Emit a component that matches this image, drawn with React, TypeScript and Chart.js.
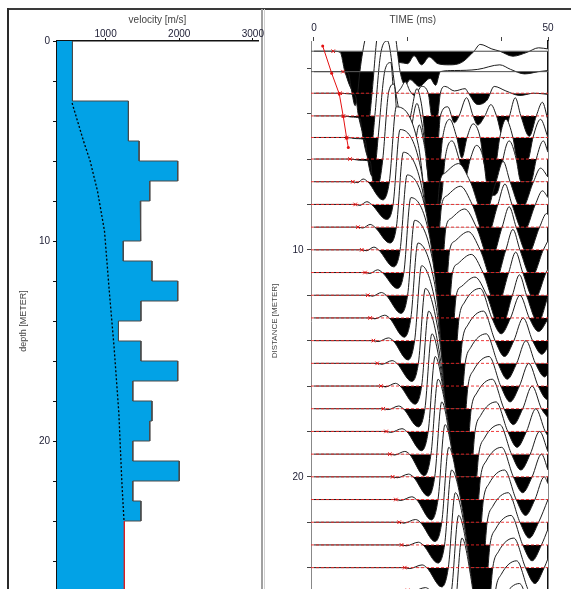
import React, { useEffect, useRef } from 'react';
import { Chart, registerables } from 'chart.js';
Chart.register(...registerables);

const FONT = "'Liberation Sans', Arial, sans-serif";

// ---------------- Left panel: velocity profile ----------------
const LAYER_TOP = [0, 3, 5, 6, 7, 8, 9, 10, 11, 12, 13, 14, 15, 16, 17, 18, 19, 20, 21, 22, 23];
const LAYER_VEL = [550, 1310, 1455, 1980, 1600, 1470, 1480, 1240, 1630, 1980, 1480, 1175, 1480, 1980, 1370, 1630, 1600, 1370, 2000, 1370, 1480];
const HALFSPACE_DEPTH = [24, 28];
const HALFSPACE_VEL = [1255, 1255];
const AVG_DEPTH = [3.1, 5, 6, 7.5, 9.5, 12.5, 15.3, 18.6, 22, 24];
const AVG_VEL = [545, 700, 790, 890, 985, 1050, 1115, 1180, 1220, 1250];
const VEL_RANGE = [340, 3070];
const VEL_TICKS = [1000, 2000, 3000];
const DEPTH_RANGE = [0, 28];
const DEPTH_TICKS = [0, 2, 4, 6, 8, 10, 12, 14, 16, 18, 20, 22, 24, 26, 28];
const DEPTH_LABELS = [0, 10, 20];

// ---------------- Right panel: seismic wiggle traces ----------------
// [time ms, amplitude in trace-spacing units; + = down (black), - = up]
const TR01 = [[0,0],[4.1,0],[5.6,0.05],[6.6,0.9],[8.5,1.8],[11,1.9],[13.5,1.7],[15.5,1.0],[17,0.6],[18.4,0.5],[20,0.55],[21.4,0.2],[23,0.6],[24.6,0.25],[26.5,0.55],[29,0.6],[31.5,0.5],[33.5,0.15],[34.2,0],[35.5,-0.3],[38,-0.1],[39.7,0],[42.5,0.22],[45.5,0.05],[48,-0.15],[50,-0.1]];
const TR02 = [[0,0],[6.2,0],[7.3,0.05],[8,0.8],[8.8,1.5],[9.3,1.0],[9.8,0],[11,-1.5],[12.5,-2.2],[15,-2.4],[17.2,-1.8],[18.4,0],[19.5,0.6],[20.5,0.35],[22.5,0.65],[24.8,0.3],[26,0.6],[27,0],[30,-0.05],[35,-0.1],[39.7,-0.3],[42,-0.1],[45,0.1],[48,0],[50,-0.05]];
const TR03 = [[0,0],[5.6,0],[7.5,0.03],[8.8,0.08],[9.5,1.0],[10.8,1.8],[11.8,1.2],[12.4,0],[13.6,-2.6],[15,-3.0],[16.5,-1.2],[17.5,0],[18.5,-0.2],[19.5,-0.5],[20.5,-0.1],[21.5,0.1],[23,-0.3],[24.4,0],[25.1,1.0],[25.9,1.3],[26.5,0.9],[27,0],[28,-0.3],[30,-0.1],[32.3,-0.2],[33,0],[35,0.5],[37,0.3],[38.5,-0.3],[41,-0.1],[44,0.1],[47,0],[50,0.05]];
const TR04 = [[0,0],[6.3,0],[8,0.05],[9.8,0.1],[10.5,1.0],[11.6,1.8],[12.5,1.1],[13,0],[14.3,-2.8],[15.7,-3.3],[17.5,-1.0],[18.6,0],[19.3,-0.2],[20.2,0.2],[22,-1.2],[22.8,-0.7],[23.3,0],[23.9,1.3],[25.2,1.8],[26.5,1.2],[27,0],[28.6,-0.4],[30,0.3],[31,0],[32.6,-0.8],[34,0],[35,0.4],[36.5,0],[37.8,-0.5],[39,0],[40.5,1.0],[41.8,0],[43,-0.8],[44.2,0],[46,0.9],[47.5,0],[48.8,-0.6],[50,0.2]];
const TR05 = [[0,0],[7,0],[9,0.05],[10.9,0.1],[11.5,1.0],[12.4,1.7],[13.2,1.1],[13.7,0],[15.2,-3.0],[16.4,-3.3],[17.5,0],[18.2,0.8],[19,1.1],[19.8,0.8],[20.5,0],[22,-1.5],[22.9,-0.8],[23.5,0],[24.2,1.4],[25.5,2.0],[26.8,1.4],[27.5,0],[29,-0.8],[30.5,0],[31.6,0.9],[32.7,0],[34,-0.6],[35.5,0],[36.3,1.1],[37.6,1.6],[38.9,1.1],[39.7,0],[41,-0.8],[42.5,0],[43.3,0.9],[44.6,1.3],[45.9,0.9],[46.8,0],[48.4,-0.8],[50,0]];
const TR06 = [[0,0],[7.7,0],[9.7,0.05],[12,0.1],[12.5,0.9],[13.3,1.5],[14.1,0.9],[14.7,0],[16,-3.0],[17.1,-3.3],[18.2,0],[18.9,0.8],[19.7,1.1],[20.5,0.8],[21.2,0],[22.5,-1.5],[23.4,-0.8],[24,0],[24.7,1.6],[26,2.2],[27.3,1.6],[28,0],[29.5,-0.8],[31,0],[32.2,0.9],[33.4,0],[34.7,-0.6],[36.2,0],[37,1.2],[38.3,1.6],[39.6,1.2],[40.4,0],[41.7,-0.8],[43.2,0],[44,0.9],[45.3,1.3],[46.6,0.9],[47.5,0],[49,-0.8],[50,-0.3]];
const TR07 = [[0,0],[8.3,0],[9.3,0.04],[10.5,-0.12],[11.5,0],[14.7,0.8],[16.1,0],[17.6,-3.3],[22.3,-1.6],[23.3,0],[24,1.6],[25.1,2.4],[26.2,1.6],[26.9,0],[28.1,-0.4],[30.9,-0.8],[33.4,0],[36.4,1.5],[38.9,0],[40.4,-0.9],[41.9,0],[44.4,1.2],[46.9,0],[48.4,-0.6],[50,-0.2]];
const TR08 = [[0,0],[8.8,0],[9.8,0.04],[11.3,-0.12],[12.3,0],[15.5,0.66],[16.9,0],[18.4,-3.3],[22.8,-1.6],[23.8,0],[24.5,1.6],[25.55,2.4],[26.6,1.6],[27.3,0],[28.5,-0.4],[31.3,-0.8],[33.8,0],[36.8,1.5],[39.3,0],[40.8,-0.9],[42.3,0],[44.8,1.2],[47.3,0],[48.8,-0.6],[50,-0.3]];
const TR09 = [[0,0],[9.4,0],[10.4,0.04],[12,-0.12],[13,0],[16.2,0.7],[17.6,0],[19.1,-3.3],[23.2,-1.6],[24.2,0],[24.9,1.6],[26.2,2.4],[27.5,1.6],[28.2,0],[29.4,-0.4],[32.2,-0.8],[34.7,0],[37.7,1.5],[40.2,0],[41.7,-0.9],[43.2,0],[45.7,1.2],[48.2,0],[49.7,-0.6],[50,-0.55]];
const TR10 = [[0,0],[10.2,0],[11.2,0.04],[12.8,-0.12],[13.8,0],[17,0.75],[18.4,0],[19.9,-3.3],[24,-1.6],[25,0],[25.7,1.6],[27,2.4],[28.3,1.6],[29,0],[30.2,-0.4],[33,-0.8],[35.5,0],[38.5,1.5],[41,0],[42.5,-0.9],[44,0],[46.5,1.2],[49,0],[50,-0.4]];
const TR11 = [[0,0],[10.9,0],[11.9,0.04],[13.6,-0.12],[14.6,0],[17.8,0.7],[19.2,0],[20.7,-3.3],[24.7,-1.6],[25.7,0],[26.4,1.6],[27.65,2.4],[28.9,1.6],[29.6,0],[30.8,-0.4],[33.6,-0.8],[36.1,0],[39.1,1.5],[41.6,0],[43.1,-0.9],[44.6,0],[47.1,1.2],[49.6,0],[50,-0.15]];
const TR12 = [[0,0],[11.5,0],[12.5,0.04],[14.4,-0.12],[15.4,0],[18.6,0.8],[20,0],[21.5,-3.3],[25.3,-1.6],[26.3,0],[27,1.6],[28.35,2.4],[29.7,1.6],[30.4,0],[31.6,-0.4],[34.4,-0.8],[36.9,0],[39.9,1.5],[42.4,0],[43.9,-0.9],[45.4,0],[47.9,1.2],[50,0.05]];
const TR13 = [[0,0],[12,0],[13,0.04],[15.1,-0.12],[16.1,0],[19.3,0.85],[20.7,0],[22.2,-3.3],[25.7,-1.6],[26.7,0],[27.4,1.6],[28.85,2.4],[30.3,1.6],[31,0],[32.2,-0.7],[35.5,-1.3],[38,0],[40,0.7],[42,0],[44,-1.0],[46,0],[48,0.6],[50,0.05]];
const TR14 = [[0,0],[12.7,0],[13.7,0.04],[15.9,-0.12],[16.9,0],[20.1,0.85],[21.5,0],[23,-3.3],[26,-1.6],[27,0],[27.7,1.6],[29.35,2.4],[31,1.6],[31.7,0],[32.9,-0.7],[36.2,-1.3],[38.7,0],[40.7,0.7],[42.7,0],[44.7,-1.0],[46.7,0],[48.7,0.6],[50,0.3]];
const TR15 = [[0,0],[13.5,0],[14.5,0.04],[16.7,-0.12],[17.7,0],[20.9,0.8],[22.3,0],[23.8,-3.3],[26.4,-1.6],[27.4,0],[28.1,1.6],[29.85,2.4],[31.6,1.6],[32.3,0],[33.5,-0.7],[36.8,-1.3],[39.3,0],[41.3,0.7],[43.3,0],[45.3,-1.0],[47.3,0],[49.3,0.6],[50,0.45]];
const TR16 = [[0,0],[14.3,0],[15.3,0.04],[17.4,-0.12],[18.4,0],[21.6,0.8],[23,0],[24.5,-3.3],[26.7,-1.6],[27.7,0],[28.4,1.6],[30.3,2.4],[32.2,1.6],[32.9,0],[34.1,-0.7],[37.4,-1.3],[39.9,0],[41.9,0.7],[43.9,0],[45.9,-1.0],[47.9,0],[49.9,0.6],[50,0.58]];
const TR17 = [[0,0],[14.8,0],[15.8,0.04],[18.1,-0.12],[19.1,0],[22.3,0.8],[23.7,0],[25.2,-3.3],[27.2,-1.6],[28.2,0],[28.9,1.6],[30.9,2.4],[32.9,1.6],[33.6,0],[34.8,-0.7],[38.1,-1.3],[40.6,0],[42.6,0.7],[44.6,0],[46.6,-1.0],[48.6,0],[50,0.4]];
const TR18 = [[0,0],[15.4,0],[16.4,0.04],[18.8,-0.12],[19.8,0],[23,0.85],[24.4,0],[25.9,-3.3],[27.8,-1.6],[28.8,0],[29.5,1.6],[31.6,2.4],[33.7,1.6],[34.4,0],[35.6,-0.7],[38.9,-1.3],[41.4,0],[43.4,0.7],[45.4,0],[47.4,-1.0],[49.4,0],[50,0.2]];
const TR19 = [[0,0],[16.2,0],[17.2,0.04],[19.4,-0.12],[20.4,0],[23.6,0.95],[25,0],[26.5,-3.3],[28.5,-1.6],[29.5,0],[30.2,1.6],[32.35,2.4],[34.5,1.6],[35.2,0],[36.4,-0.7],[39.7,-1.3],[42.2,0],[44.2,0.7],[46.2,0],[48.2,-1.0],[50,-0.1]];
const TR20 = [[0,0],[16.8,0],[17.8,0.04],[20.2,-0.12],[21.2,0],[24.4,0.85],[25.8,0],[27.3,-3.3],[29.1,-1.6],[30.1,0],[30.8,1.6],[32.85,2.4],[34.9,1.6],[35.6,0],[36.8,-0.7],[40.1,-1.3],[42.6,0],[44.6,0.7],[46.6,0],[48.6,-1.0],[50,-0.3]];
const TR21 = [[0,0],[17.5,0],[18.5,0.04],[20.9,-0.12],[21.9,0],[25.1,0.9],[26.5,0],[28,-3.3],[29.9,-1.6],[30.9,0],[31.6,1.6],[33.55,2.4],[35.5,1.6],[36.2,0],[37.4,-0.7],[40.7,-1.3],[43.2,0],[45.2,0.7],[47.2,0],[49.2,-1.0],[50,-0.7]];
const TR22 = [[0,0],[18.2,0],[19.2,0.04],[21.7,-0.12],[22.7,0],[25.9,0.85],[27.3,0],[28.8,-3.3],[30.8,-1.6],[31.8,0],[32.5,1.6],[34.4,2.4],[36.3,1.6],[37,0],[38.2,-0.7],[41.5,-1.3],[44,0],[46,0.7],[48,0],[50,-1.0]];
const TR23 = [[0,0],[18.7,0],[19.7,0.04],[22.3,-0.12],[23.3,0],[26.5,0.8],[27.9,0],[29.4,-3.3],[31.7,-1.6],[32.7,0],[33.4,1.6],[35.15,2.4],[36.9,1.6],[37.6,0],[38.8,-0.7],[42.1,-1.3],[44.6,0],[46.6,0.7],[48.6,0],[50,-0.7]];
const TR24 = [[0,0],[19.4,0],[20.4,0.04],[23.1,-0.12],[24.1,0],[27.3,0.85],[28.7,0],[30.2,-3.3],[32.3,-1.6],[33.3,0],[34,1.6],[35.75,2.4],[37.5,1.6],[38.2,0],[39.4,-0.7],[42.7,-1.3],[45.2,0],[47.2,0.7],[49.2,0],[50,-0.4]];
const TR25 = [[0,0],[20,0],[21,0.04],[23.8,-0.12],[24.8,0],[28,0.85],[29.4,0],[30.9,-3.3],[32.9,-1.6],[33.9,0],[34.6,1.6],[36.35,2.4],[38.1,1.6],[38.8,0],[40,-0.7],[43.3,-1.3],[45.8,0],[47.8,0.7],[49.8,0],[50,-0.05]];
const TR26 = [[0,0],[20.6,0],[21.6,0.04],[24.5,-0.12],[25.5,0],[28.7,0.85],[30.1,0],[31.6,-3.3],[33.5,-1.6],[34.5,0],[35.2,1.6],[36.95,2.4],[38.7,1.6],[39.4,0],[40.6,-0.7],[43.9,-1.3],[46.4,0],[48.4,0.7],[50,0.1]];
const TRACES = [TR01, TR02, TR03, TR04, TR05, TR06, TR07, TR08, TR09, TR10, TR11, TR12, TR13, TR14, TR15, TR16, TR17, TR18, TR19, TR20, TR21, TR22, TR23, TR24, TR25, TR26];
const TRACE_DIST = [1.25, 2.15, 3.1, 4.1, 5.05, 6, 7, 8, 9, 10, 11, 12, 13, 14, 15, 16, 17, 18, 19, 20, 21, 22, 23, 24, 25, 26];
const FIRST_BREAK = [4.1, 6.2, 5.6, 6.3, 7.0, 7.7, 8.3, 8.8, 9.4, 10.2, 10.9, 11.5, 12.0, 12.7, 13.5, 14.3, 14.8, 15.4, 16.2, 16.8, 17.5, 18.2, 18.7, 19.4, 20.0];
const PICK_T = [1.86, 3.78, 5.41, 6.26, 6.98, 7.33];
const PICK_D = [1.02, 2.22, 3.14, 4.13, 5.08, 5.49];
const TIME_RANGE = [-0.64, 50];
const TIME_TICKS = [0, 20, 40, 50];
const TIME_LABELS = [0, 50];
const DIST_RANGE = [0.8, 25.47];
const DIST_TICKS = [2, 4, 6, 8, 10, 12, 14, 16, 18, 20, 22, 24];
const DIST_LABELS = [10, 20];

function leftConfig(): any {
  const profile: any[] = [];
  LAYER_TOP.forEach((top, i) => {
    const bottom = i + 1 < LAYER_TOP.length ? LAYER_TOP[i + 1] : HALFSPACE_DEPTH[0];
    profile.push({ x: LAYER_VEL[i], y: top });
    profile.push({ x: LAYER_VEL[i], y: bottom });
  });
  profile.push({ x: HALFSPACE_VEL[0], y: HALFSPACE_DEPTH[0] });
  const half = HALFSPACE_DEPTH.map((d, i) => ({ x: HALFSPACE_VEL[i], y: d }));
  const avg = AVG_DEPTH.map((d, i) => ({ x: AVG_VEL[i], y: d }));
  return {
    type: 'line',
    data: {
      datasets: [
        { data: avg, borderColor: '#000', borderWidth: 1.3, borderDash: [2, 2], pointRadius: 0, fill: false, order: 0 },
        { data: half, borderColor: '#e02020', borderWidth: 1, pointRadius: 0, backgroundColor: '#02a2e6', fill: { target: { value: VEL_RANGE[0] } }, order: 1 },
        { data: profile, borderColor: '#4a4a4a', borderWidth: 1, pointRadius: 0, backgroundColor: '#02a2e6', fill: { target: { value: VEL_RANGE[0] } }, order: 2 },
      ],
    },
    options: {
      indexAxis: 'y',
      responsive: false,
      animation: false,
      events: [],
      layout: { padding: { left: 0, right: 13, top: 0, bottom: 9 } },
      plugins: { legend: { display: false }, tooltip: { enabled: false } },
      scales: {
        x: {
          type: 'linear', position: 'top', min: VEL_RANGE[0], max: VEL_RANGE[1],
          afterBuildTicks: (s: any) => { s.ticks = VEL_TICKS.map((v) => ({ value: v })); },
          ticks: { callback: (v: any) => String(v), font: { size: 10, family: FONT }, color: '#222238', padding: -2, maxRotation: 0, autoSkip: false },
          grid: { drawOnChartArea: false, drawTicks: true, tickLength: 3, color: '#111' },
          border: { display: true, color: '#111', width: 1.5 },
          title: { display: true, text: 'velocity [m/s]', font: { size: 10, family: FONT }, color: '#444', padding: { top: 4, bottom: 0 } },
          afterFit: (s: any) => { s.height = 31; s.paddingLeft = 0; s.paddingRight = 0; },
        },
        y: {
          type: 'linear', position: 'left', reverse: true, min: DEPTH_RANGE[0], max: DEPTH_RANGE[1],
          afterBuildTicks: (s: any) => { s.ticks = DEPTH_TICKS.map((v) => ({ value: v })); },
          ticks: { callback: (v: any) => (DEPTH_LABELS.includes(v) ? String(v) : ''), font: { size: 10, family: FONT }, color: '#222238', padding: 3, autoSkip: false },
          grid: { drawOnChartArea: false, drawTicks: true, tickLength: 4, color: '#111' },
          border: { display: true, color: '#111', width: 1.5 },
          title: { display: true, text: 'depth [METER]', font: { size: 9, family: FONT }, color: '#444', padding: { top: 9.6, bottom: 0 } },
          afterFit: (s: any) => { s.width = 48; s.paddingTop = 0; s.paddingBottom = 0; },
        },
      },
    },
  };
}

function rightConfig(): any {
  const datasets: any[] = [];
  TRACES.forEach((tr, i) => {
    const d = TRACE_DIST[i];
    datasets.push({
      data: tr.map(([t, a]) => ({ x: t, y: d + a })),
      borderColor: '#1c1c1c', borderWidth: 1, pointRadius: 0,
      cubicInterpolationMode: 'monotone',
      fill: { target: { value: d }, above: '#ffffff', below: '#000000' },
      order: 200 - i,
    });
  });
  TRACE_DIST.forEach((d, i) => {
    if (d > DIST_RANGE[1]) return;
    datasets.push({
      data: [{ x: TIME_RANGE[0], y: d }, { x: TIME_RANGE[1], y: d }],
      borderColor: i < 2 ? '#555' : 'rgba(235,35,35,0.9)', borderWidth: 1,
      borderDash: i < 2 ? [] : [3, 2], pointRadius: 0, fill: false, order: 5,
    });
  });
  datasets.push({
    data: PICK_T.map((t, i) => ({ x: t, y: PICK_D[i] })),
    borderColor: '#e41010', borderWidth: 1, pointRadius: 1.5, pointBackgroundColor: '#e41010', pointBorderWidth: 0, fill: false, order: 2,
  });
  datasets.push({
    data: FIRST_BREAK.map((t, i) => ({ x: t, y: TRACE_DIST[i] })),
    showLine: false, pointStyle: 'crossRot', pointRadius: 2.5, pointBorderColor: '#e41010', pointBorderWidth: 1, fill: false, order: 1,
  });
  return {
    type: 'line',
    data: { datasets },
    options: {
      responsive: false,
      animation: false,
      events: [],
      layout: { padding: { left: 0, right: 23, top: 0, bottom: 9 } },
      plugins: { legend: { display: false }, tooltip: { enabled: false } },
      scales: {
        x: {
          type: 'linear', position: 'top', min: TIME_RANGE[0], max: TIME_RANGE[1],
          afterBuildTicks: (s: any) => { s.ticks = TIME_TICKS.map((v) => ({ value: v })); },
          ticks: { callback: (v: any) => (TIME_LABELS.includes(v) ? String(v) : ''), font: { size: 10, family: FONT }, color: '#222238', padding: 2.5, maxRotation: 0, autoSkip: false },
          grid: { drawOnChartArea: false, drawTicks: true, tickLength: 4, color: '#444' },
          border: { display: false },
          title: { display: true, text: 'TIME (ms)            ', font: { size: 10, family: FONT }, color: '#444', padding: { top: 4, bottom: 0 } },
          afterFit: (s: any) => { s.height = 31; s.paddingLeft = 0; s.paddingRight = 0; },
        },
        y: {
          type: 'linear', position: 'left', reverse: true, min: DIST_RANGE[0], max: DIST_RANGE[1],
          afterBuildTicks: (s: any) => { s.ticks = DIST_TICKS.map((v) => ({ value: v })); },
          ticks: { callback: (v: any) => (DIST_LABELS.includes(v) ? String(v) : ''), font: { size: 10, family: FONT }, color: '#222238', padding: 3.5, autoSkip: false },
          grid: { drawOnChartArea: false, drawTicks: true, tickLength: 4, color: '#444' },
          border: { display: true, color: '#888', width: 1 },
          title: { display: true, text: 'DISTANCE [METER]', font: { size: 8, family: FONT }, color: '#444', padding: { top: 5, bottom: 0 } },
          afterFit: (s: any) => { s.width = 46; s.paddingTop = 0; s.paddingBottom = 0; },
        },
        y2: {
          type: 'linear', position: 'right', reverse: true, min: DIST_RANGE[0], max: DIST_RANGE[1],
          ticks: { display: false },
          grid: { display: true, drawOnChartArea: false, drawTicks: false },
          border: { display: true, color: '#111', width: 1.5 },
          afterFit: (s: any) => { s.width = 0; },
        },
      },
    },
  };
}

export default function App() {
  const leftRef = useRef<HTMLCanvasElement | null>(null);
  const rightRef = useRef<HTMLCanvasElement | null>(null);
  useEffect(() => {
    Chart.defaults.font.family = FONT;
    const a = new Chart(leftRef.current as HTMLCanvasElement, leftConfig());
    const b = new Chart(rightRef.current as HTMLCanvasElement, rightConfig());
    return () => { a.destroy(); b.destroy(); };
  }, []);
  return (
    <div style={{ position: 'absolute', left: 0, top: 0, width: 571, height: 589, overflow: 'hidden', background: '#fff' }}>
      <div style={{ position: 'absolute', left: 8, top: 8, width: 563, height: 2, background: '#3a3a3a' }} />
      <div style={{ position: 'absolute', left: 7, top: 8, width: 2, height: 600, background: '#2a2a2a' }} />
      <div style={{ position: 'absolute', left: 261, top: 9, width: 2, height: 600, background: '#a0a0a0' }} />
      <div style={{ position: 'absolute', left: 264, top: 9, width: 1, height: 600, background: '#d0d0d0' }} />
      <canvas ref={leftRef} width={262} height={600} style={{ position: 'absolute', left: 9, top: 10 }} />
      <canvas ref={rightRef} width={306} height={600} style={{ position: 'absolute', left: 265, top: 10 }} />
    </div>
  );
}
